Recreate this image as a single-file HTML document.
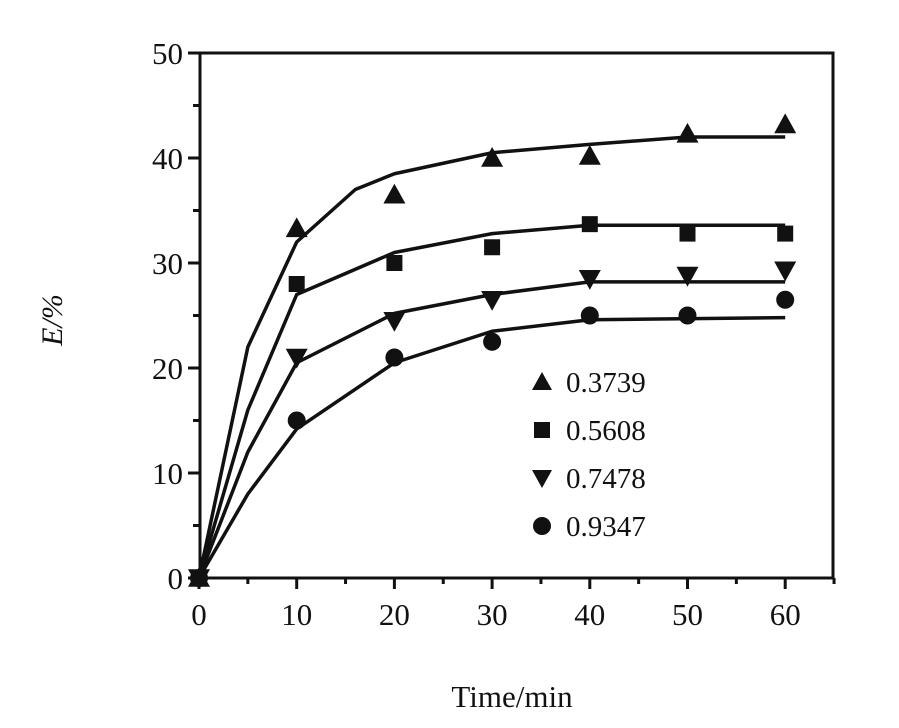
<!DOCTYPE html>
<html><head><meta charset="utf-8"><style>
body{margin:0;background:#fff;}
svg text{font-family:"Liberation Serif",serif;fill:#111;}
</style></head><body>
<svg id="s" width="899" height="723" xmlns="http://www.w3.org/2000/svg">
<rect x="200" y="53" width="633" height="525" fill="none" stroke="#111" stroke-width="3"/>
<g id="g"></g>
<text x="62" y="320" font-size="30" font-style="italic" transform="rotate(-90 62 320)" text-anchor="middle">E/%</text>
<text x="512" y="707" font-size="31" text-anchor="middle">Time/min</text>
</svg>
<script>
var g=document.getElementById('g'),NS='http://www.w3.org/2000/svg';
function X(t){return 199+t*9.77}function Y(e){return 578-e*10.5}
function el(n,a){var e=document.createElementNS(NS,n);for(var k in a)e.setAttribute(k,a[k]);g.appendChild(e);return e}
for(var v=0;v<=50;v+=5){var y=Y(v);el('line',{x1:v%10?193:188,x2:200,y1:y,y2:y,stroke:'#111','stroke-width':3});
 if(v%10==0){var t=el('text',{x:183,y:y+11,'font-size':31,'text-anchor':'end'});t.textContent=v;}}
for(var v=0;v<=65;v+=5){var x=X(v);el('line',{x1:x,x2:x,y1:578,y2:v%10?584:589,stroke:'#111','stroke-width':3});
 if(v%10==0&&v<=60){var t=el('text',{x:x,y:625,'font-size':31,'text-anchor':'middle'});t.textContent=v;}}
var curves=[
[[0,0],[5,22],[10,32],[16,37],[20,38.5],[30,40.5],[40,41.3],[50,42],[60,42]],
[[0,0],[5,16],[10,27],[20,31],[30,32.8],[40,33.6],[60,33.6]],
[[0,0],[5,12],[10,20.5],[20,25.2],[30,27],[40,28.2],[60,28.2]],
[[0,0],[5,8],[10,14.2],[20,20.5],[30,23.5],[40,24.6],[60,24.8]]];
curves.forEach(function(c){var d='';c.forEach(function(p,i){d+=(i?'L':'M')+X(p[0])+' '+Y(p[1])});
 el('path',{d:d,fill:'none',stroke:'#111','stroke-width':3.5,'stroke-linejoin':'round'});});
function mk(type,x,y,s){s=s||11;
 if(type==0)el('polygon',{points:[x,y-s,x+s,y+s*0.8,x-s,y+s*0.8].join(' '),fill:'#111'});
 else if(type==1)el('rect',{x:x-8,y:y-8,width:16,height:16,fill:'#111'});
 else if(type==2)el('polygon',{points:[x-s,y-s*0.8,x+s,y-s*0.8,x,y+s].join(' '),fill:'#111'});
 else el('circle',{cx:x,cy:y,r:9,fill:'#111'});}
var T=[0,10,20,30,40,50,60];
var D=[[0,33.3,36.5,40,40.2,42.3,43.2],[0,28,30,31.5,33.7,32.8,32.8],[0,21,24.5,26.5,28.5,28.8,29.3],[0,15,21,22.5,25,25,26.5]];
D.forEach(function(r,k){r.forEach(function(e,i){mk(k,X(T[i]),Y(e));});});
var L=['0.3739','0.5608','0.7478','0.9347'];
L.forEach(function(s,k){var y=382+k*48;mk(k,542,y,10);var t=el('text',{x:566,y:y+10,'font-size':29});t.textContent=s;});
</script>
</body></html>
